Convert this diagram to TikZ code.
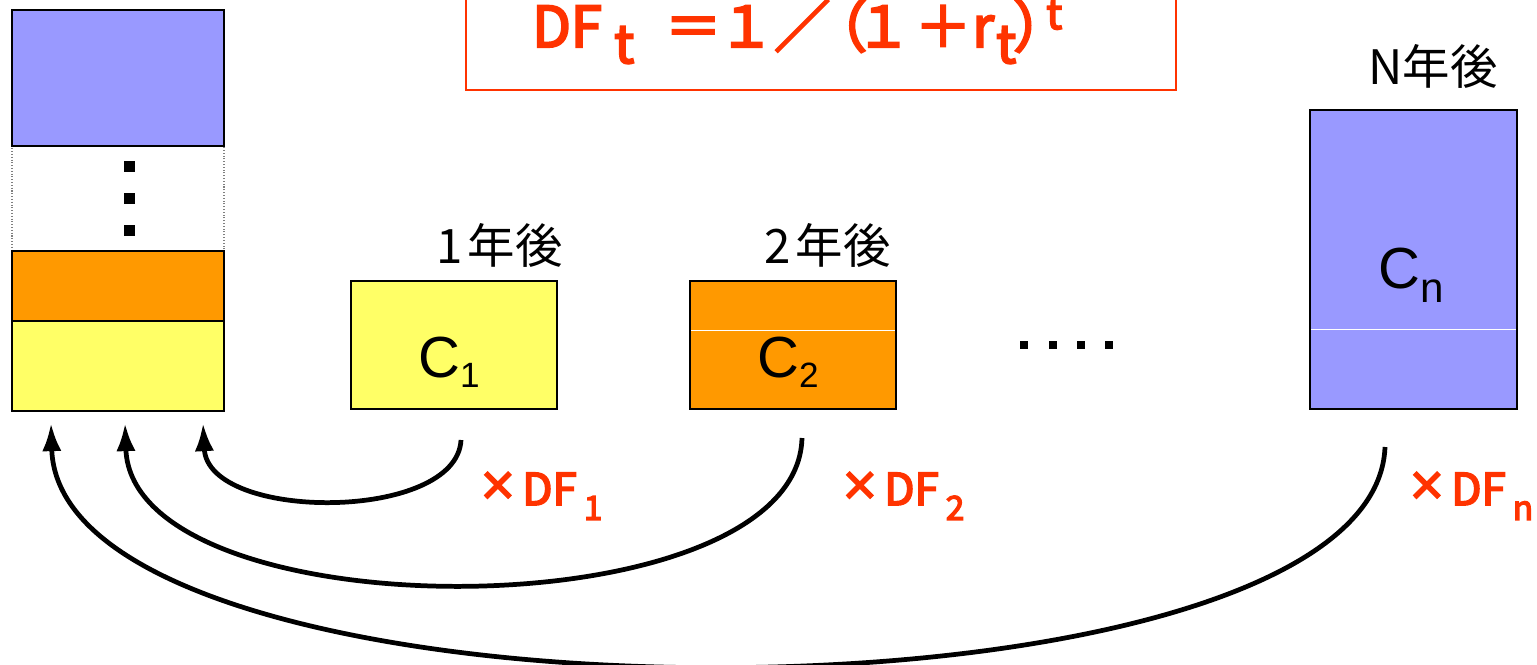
\documentclass[tikz,border=0pt]{standalone}
\usepackage{fontspec}
\setmainfont{Liberation Sans}
\newfontfamily\jp{Noto Sans CJK JP}
\newfontfamily\jpf[FakeBold=4]{Noto Sans CJK JP}
\newfontfamily\lsb[FakeBold=2]{Liberation Sans}
\usetikzlibrary{arrows.meta,fit}
\definecolor{cblue}{HTML}{9999FF}
\definecolor{corange}{HTML}{FF9900}
\definecolor{cyellow}{HTML}{FFFF66}
\definecolor{cred}{HTML}{FF3300}
\newlength\fpx \setlength\fpx{0.02cm}
\newcommand\mysub[3]{\raisebox{#2}{\fontsize{#1}{#1}\selectfont #3}}
% piece of the formula: alignment, x offset (px), raise (px), size (pt), text
\newcommand\fc[5]{\rlap{\hspace{#2\fpx}\makebox[0pt][#1]{\raisebox{#3\fpx}{\fontsize{#4}{#4}\selectfont #5}}}}
\newcommand\tms{{\lsb\fontsize{34}{34}\selectfont ×}\hspace{4pt}}
\begin{document}
\begin{tikzpicture}[x=0.02cm,y=-0.02cm,
  box/.style={draw=black, line width=0.8pt, inner sep=0pt},
  lab/.style={inner sep=0pt, anchor=base west},
  rlab/.style={inner sep=0pt, anchor=base east},
  flow/.style={line width=2.7pt, -{Latex[length=16pt,width=11pt]}},
  dfl/.style={lab, text=cred, font=\jpf\fontsize{25}{25}\selectfont},
  cl/.style={lab, font=\fontsize{33}{33}\selectfont},
  yl/.style={rlab, font=\jp\fontsize{27}{27}\selectfont}]
\useasboundingbox (0,0) rectangle (1537,664);
% left stack
\node[inner sep=0pt, draw=gray, densely dotted, line width=0.6pt, fit={(12,146)(224,251)}] (sdots) {};
\node[box, fill=cblue, fit={(12,10)(224,146)}] (sblue) {};
\node[box, fill=corange, fit={(12,251)(224,321)}] (sorange) {};
\node[box, fill=cyellow, fit={(12,321)(224,411)}] (syellow) {};
\foreach \y in {161,193,225} \fill (124,\y) rectangle +(11,11);
% formula
\node[draw=cred, line width=1.2pt, inner sep=0pt, fit={(466,-10)(1176,90)}] (fbox) {};
\node[lab, text=cred, font=\jpf] (ftext) at (500,47)
  {\fc{l}{31}{0}{32}{DF}\fc{c}{123}{-16}{30}{t}\fc{c}{192}{0}{32}{＝}\fc{c}{245}{0}{32}{１}%
   \fc{c}{301}{0}{32}{／}\fc{r}{366}{0}{32}{（}\fc{c}{382}{0}{32}{１}\fc{c}{442}{0}{32}{＋}%
   \fc{l}{471}{0}{32}{r}\fc{c}{505}{-16}{30}{t}\fc{l}{512}{0}{32}{）}\fc{c}{553}{18}{24}{t}};
% boxes
\node[box, fill=cyellow, fit={(351,281)(557,409)}] (c1) {};
\node[box, fill=corange, fit={(690,281)(896,409)}] (c2) {};
\node[box, fill=cblue, fit={(1310,110)(1517,409)}] (cn) {};
\draw[white, line width=0.5pt] (691,330) -- (895,330);
\draw[white, line width=0.5pt] (1311,329) -- (1516,329);
\node[cl] (c1t) at (418,377) {C\mysub{20}{-6.2pt}{1}};
\node[cl] (c2t) at (757,377) {C\mysub{20}{-6.2pt}{2}};
\node[cl] (cnt) at (1378,288) {C\mysub{24}{-8.5pt}{n}};
\node[yl] (y1) at (563,263) {1\hspace{3pt}年後};
\node[yl] (y2) at (891,263) {2\hspace{3pt}年後};
\node[yl] (yn) at (1498,84) {N年後};
\foreach \x in {1020,1048.5,1077,1105} \fill (\x,341) rectangle +(8,8);
% arrows
\coordinate (a1) at (461,440); \coordinate (b1) at (203,423);
\coordinate (a2) at (802,438); \coordinate (b2) at (125,423);
\coordinate (a3) at (1385,447); \coordinate (b3) at (51,423);
\draw[flow] (a1) .. controls (457,522) and (208,522) .. (b1);
\draw[flow] (a2) .. controls (797,634) and (132,634) .. (b2);
\draw[flow] (a3) .. controls (1374,741) and (60,741) .. (b3);
\node[dfl] (d1) at (480,505) {\tms DF\hspace{4pt}\mysub{19}{-8.5pt}{1}};
\node[dfl] (d2) at (842,505) {\tms DF\hspace{4pt}\mysub{19}{-8.5pt}{2}};
\node[dfl] (dn) at (1409,505) {\tms DF\hspace{4pt}\mysub{19}{-8.5pt}{n}};
\end{tikzpicture}
\end{document}
